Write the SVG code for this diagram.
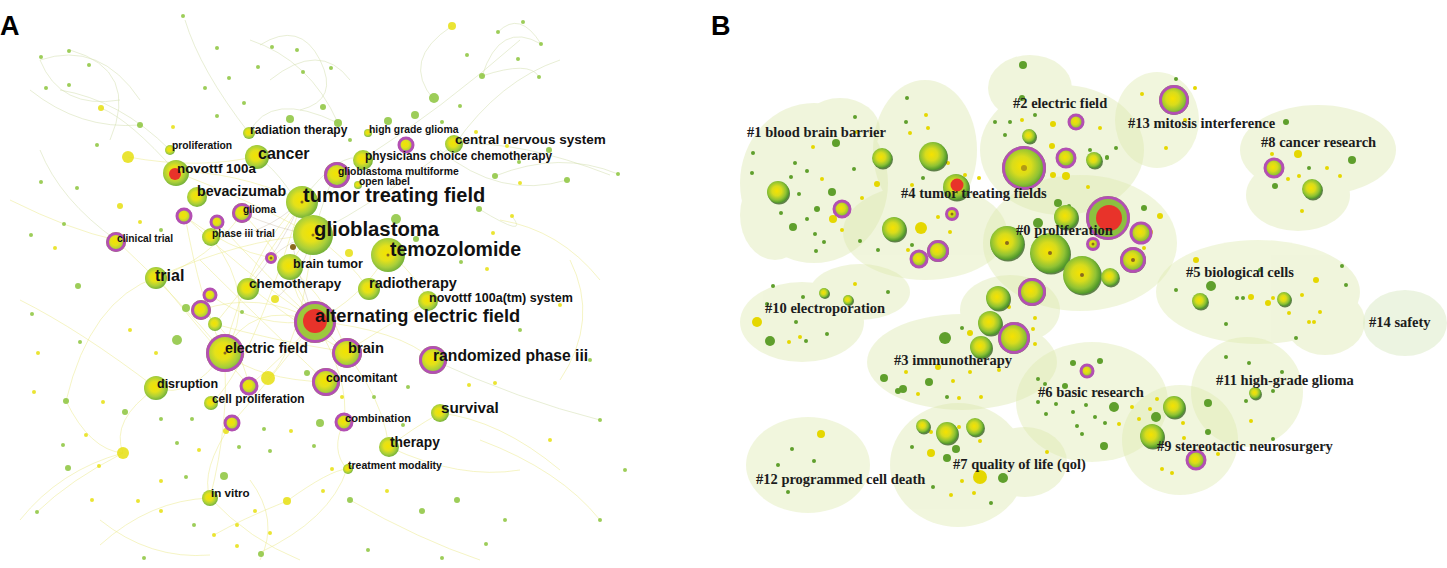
<svg xmlns="http://www.w3.org/2000/svg" width="1447" height="568" viewBox="0 0 1447 568">
<defs>
<radialGradient id="ga" cx="0.45" cy="0.45" r="0.55">
<stop offset="0" stop-color="#f3e300"/>
<stop offset="0.4" stop-color="#e4e11a"/>
<stop offset="0.75" stop-color="#a9cf3a"/>
<stop offset="1" stop-color="#78b33a"/>
</radialGradient>
<radialGradient id="gb" cx="0.45" cy="0.45" r="0.55">
<stop offset="0" stop-color="#f6e200"/>
<stop offset="0.4" stop-color="#d8dc1c"/>
<stop offset="0.75" stop-color="#8fc234"/>
<stop offset="1" stop-color="#4f982a"/>
</radialGradient>
<style>
.la{font-family:"Liberation Sans",Arial,sans-serif;font-weight:bold;fill:#111}
.lb{font-family:"Liberation Serif","Times New Roman",serif;font-weight:bold;fill:#1c1c1c;font-size:14.5px}
.na{fill:url(#ga)}
.nb{fill:url(#gb)}
.sh{fill:#2f5a17;opacity:.75}
.ring{fill:none;stroke:#b34fb3;stroke-width:3}
.red{fill:#e8332a}
.ctr{fill:#8a6a1e}
.e{fill:none;stroke:#ece98e;stroke-width:.7;opacity:.75}
.e2{fill:none;stroke:#d5e1b4;stroke-width:.7;opacity:.8}
.e3{fill:none;stroke:#bba98c;stroke-width:.6;opacity:.55}
.dg{fill:#8cc43c;opacity:.85}
.dy{fill:#e6df10;opacity:.85}
.bg{fill:#5f9f2c}
.by{fill:#e5d700}
.cl{fill:#dde9ad;opacity:.42}
.cl14{fill:#d4e6bc;opacity:.45}
.pl{font-family:"Liberation Sans",Arial,sans-serif;font-weight:bold;font-size:27px;fill:#000}
</style>
</defs>
<rect width="1447" height="568" fill="#ffffff"/>

<text class="pl" x="0" y="35">A</text>
<text class="pl" x="711" y="35">B</text>

<!-- ===================== PANEL A ===================== -->
<g id="connectors-A">
<path class="e" d="M315 321 Q270 270 313 235"/>
<path class="e" d="M315 321 Q250 300 224 353"/>
<path class="e" d="M315 321 Q360 300 389 252"/>
<path class="e" d="M313 235 Q250 200 176 172"/>
<path class="e" d="M313 235 Q240 240 157 277"/>
<path class="e" d="M302 200 Q250 250 224 353"/>
<path class="e" d="M302 200 Q230 170 176 172"/>
<path class="e" d="M224 353 Q180 300 116 240"/>
<path class="e" d="M224 353 Q200 300 185 216"/>
<path class="e" d="M224 353 Q260 380 326 382"/>
<path class="e" d="M224 353 Q190 400 156 388"/>
<path class="e" d="M224 353 Q230 420 210 498"/>
<path class="e" d="M315 321 Q350 380 344 422"/>
<path class="e" d="M315 321 Q380 380 389 447"/>
<path class="e" d="M315 321 Q400 330 433 360"/>
<path class="e" d="M315 321 Q280 250 242 213"/>
<path class="e2" d="M313 235 Q380 200 455 144"/>
<path class="e2" d="M313 235 Q330 180 336 174"/>
<path class="e2" d="M302 200 Q340 150 363 159"/>
<path class="e" d="M389 252 Q420 280 428 301"/>
<path class="e2" d="M257 156 Q290 180 313 235"/>
<path class="e" d="M257 156 Q200 170 128 157"/>
<path class="e2" d="M249 133 Q270 90 338 123"/>
<path class="e2" d="M176 172 Q130 120 101 108"/>
<path class="e2" d="M116 240 Q60 200 40 150"/>
<path class="e" d="M157 277 Q90 300 66 401"/>
<path class="e" d="M156 388 Q110 420 123 453"/>
<path class="e" d="M123 453 Q60 470 20 520"/>
<path class="e" d="M210 498 Q250 540 300 560"/>
<path class="e" d="M210 498 Q150 500 100 545"/>
<path class="e" d="M347 469 Q330 520 259 553"/>
<path class="e" d="M389 447 Q460 480 520 470"/>
<path class="e2" d="M433 360 Q520 400 600 420"/>
<path class="e2" d="M455 144 Q520 140 610 175"/>
<path class="e2" d="M455 144 Q500 80 560 60"/>
<path class="e2" d="M363 159 Q440 110 520 40"/>
<path class="e2" d="M434 100 Q400 60 452 26"/>
<path class="e2" d="M338 123 Q310 60 250 40"/>
<path class="e2" d="M249 133 Q200 70 185 20"/>
<path class="e2" d="M170 150 Q120 100 60 90"/>
<path class="e2" d="M40 60 Q100 40 140 100"/>
<path class="e2" d="M40 60 Q60 110 120 100"/>
<path class="e2" d="M70 50 Q140 70 110 140"/>
<path class="e2" d="M30 90 Q80 130 140 125"/>
<path class="e2" d="M260 45 Q300 20 320 60 Q340 100 300 110"/>
<path class="e2" d="M270 80 Q320 40 350 80"/>
<path class="e2" d="M482 76 Q500 20 541 44"/>
<path class="e2" d="M482 76 Q530 60 539 77"/>
<path class="e2" d="M498 32 Q520 10 541 44"/>
<path class="e2" d="M495 176 Q560 150 618 174"/>
<path class="e2" d="M440 150 Q500 200 567 180"/>
<path class="e2" d="M479 209 Q530 240 512 216"/>
<path class="e" d="M500 220 Q560 230 600 280"/>
<path class="e" d="M570 260 Q600 320 560 380"/>
<path class="e" d="M480 440 Q560 470 600 520"/>
<path class="e" d="M440 413 Q500 420 560 470"/>
<path class="e" d="M100 520 Q150 560 210 555"/>
<path class="e" d="M350 500 Q420 540 480 560"/>
<path class="e" d="M250 480 Q280 520 260 560"/>
<path class="e" d="M287 501 Q240 520 214 535"/>
<path class="e" d="M287 501 Q330 470 347 469"/>
<path class="e" d="M66 401 Q90 450 123 453"/>
<path class="e" d="M37 512 Q70 480 123 453"/>
<path class="e" d="M20 300 Q80 330 156 388"/>
<path class="e" d="M10 200 Q70 230 116 240"/>
<path class="e" d="M200 260 Q250 310 326 382"/>
<path class="e" d="M185 216 Q240 270 315 321"/>
<path class="e" d="M217 222 Q270 280 315 321"/>
<path class="e" d="M211 237 Q260 300 224 353"/>
<path class="e" d="M201 310 Q260 290 315 321"/>
<path class="e" d="M210 295 Q260 330 315 321"/>
<path class="e" d="M215 324 Q270 340 346 352"/>
<path class="e" d="M249 286 Q290 320 346 352"/>
<path class="e" d="M289 267 Q330 300 346 352"/>
<path class="e" d="M249 386 Q280 360 315 321"/>
<path class="e" d="M232 423 Q270 380 315 321"/>
<path class="e" d="M211 403 Q250 370 302 200"/>
<path class="e" d="M369 290 Q350 260 313 235"/>
<path class="e" d="M428 301 Q380 330 346 352"/>
<path class="e" d="M157 277 Q200 330 249 386"/>
<path class="e" d="M232 423 Q200 470 210 498"/>
<path class="e" d="M344 422 Q330 450 347 469"/>
<path class="e" d="M440 413 Q410 430 389 447"/>
<path class="e" d="M184 216 Q230 250 271 258"/>
<path class="e" d="M156 278 Q210 260 242 213"/>
<path class="e" d="M201 310 Q240 340 249 386"/>
<path class="e" d="M215 324 Q260 270 302 202"/>
<path class="e" d="M268 378 Q300 350 313 235"/>
<path class="e3" d="M271 258 Q290 240 313 235"/>
<path class="e3" d="M293 247 Q300 280 315 321"/>
<path class="e3" d="M249 286 Q280 250 302 200"/>
<path class="e3" d="M242 213 Q280 230 313 235"/>
<path class="e3" d="M211 237 Q260 240 302 200"/>
<path class="e3" d="M275 299 Q300 280 313 235"/>
</g>

<g id="minor-nodes-A">
<circle class="dy" cx="452" cy="26" r="4"/>
<circle class="dg" cx="498" cy="32" r="2"/>
<circle class="dg" cx="523" cy="22" r="2"/>
<circle class="dg" cx="541" cy="44" r="2"/>
<circle class="dg" cx="518" cy="59" r="2"/>
<circle class="dg" cx="482" cy="76" r="3"/>
<circle class="dg" cx="539" cy="77" r="2"/>
<circle class="dg" cx="467" cy="55" r="2"/>
<circle class="dg" cx="460" cy="106" r="2"/>
<circle class="dg" cx="442" cy="122" r="2"/>
<circle class="dy" cx="476" cy="132" r="2"/>
<circle class="dg" cx="549" cy="150" r="3"/>
<circle class="dg" cx="495" cy="176" r="3"/>
<circle class="dg" cx="567" cy="180" r="3"/>
<circle class="dg" cx="618" cy="174" r="2"/>
<circle class="dy" cx="520" cy="183" r="2"/>
<circle class="dg" cx="479" cy="209" r="3"/>
<circle class="dy" cx="512" cy="216" r="2"/>
<circle class="dy" cx="493" cy="233" r="2"/>
<circle class="dg" cx="461" cy="262" r="2"/>
<circle class="dy" cx="487" cy="269" r="2"/>
<circle class="dg" cx="519" cy="162" r="2"/>
<circle class="dy" cx="507" cy="146" r="2"/>
<circle class="dy" cx="101" cy="108" r="3"/>
<circle class="dg" cx="140" cy="125" r="3"/>
<circle class="dg" cx="41" cy="57" r="2"/>
<circle class="dg" cx="69" cy="51" r="2"/>
<circle class="dg" cx="89" cy="65" r="2"/>
<circle class="dg" cx="46" cy="88" r="2"/>
<circle class="dg" cx="69" cy="85" r="2"/>
<circle class="dg" cx="183" cy="16" r="2"/>
<circle class="dg" cx="217" cy="48" r="2"/>
<circle class="dg" cx="272" cy="47" r="2"/>
<circle class="dg" cx="297" cy="50" r="2"/>
<circle class="dg" cx="258" cy="67" r="2"/>
<circle class="dg" cx="303" cy="72" r="2"/>
<circle class="dg" cx="331" cy="68" r="2"/>
<circle class="dg" cx="229" cy="78" r="2"/>
<circle class="dg" cx="205" cy="88" r="2"/>
<circle class="dg" cx="244" cy="103" r="2"/>
<circle class="dg" cx="217" cy="116" r="2"/>
<circle class="dg" cx="290" cy="119" r="4"/>
<circle class="dg" cx="323" cy="107" r="3"/>
<circle class="dg" cx="338" cy="123" r="4"/>
<circle class="dg" cx="388" cy="121" r="4"/>
<circle class="dg" cx="415" cy="115" r="4"/>
<circle class="dg" cx="434" cy="98" r="5"/>
<circle class="dg" cx="350" cy="140" r="2"/>
<circle class="dy" cx="128" cy="157" r="6"/>
<circle class="dy" cx="173" cy="127" r="2"/>
<circle class="dg" cx="97" cy="145" r="2"/>
<circle class="dg" cx="41" cy="182" r="2"/>
<circle class="dg" cx="77" cy="188" r="2"/>
<circle class="dy" cx="120" cy="206" r="3"/>
<circle class="dg" cx="64" cy="224" r="2"/>
<circle class="dy" cx="55" cy="248" r="2"/>
<circle class="dg" cx="31" cy="235" r="2"/>
<circle class="dy" cx="140" cy="222" r="2"/>
<circle class="dg" cx="161" cy="230" r="2"/>
<circle class="dg" cx="396" cy="219" r="5"/>
<circle class="dg" cx="416" cy="239" r="3"/>
<circle class="dy" cx="349" cy="253" r="4"/>
<circle class="ctr" cx="293" cy="247" r="3"/>
<circle class="dg" cx="78" cy="286" r="3"/>
<circle class="dg" cx="80" cy="342" r="2"/>
<circle class="dg" cx="32" cy="314" r="2"/>
<circle class="dy" cx="38" cy="353" r="2"/>
<circle class="dg" cx="186" cy="308" r="4"/>
<circle class="dy" cx="275" cy="299" r="4"/>
<circle class="dg" cx="242" cy="312" r="2"/>
<circle class="dg" cx="177" cy="340" r="5"/>
<circle class="dy" cx="268" cy="378" r="7"/>
<circle class="dg" cx="307" cy="373" r="3"/>
<circle class="dy" cx="156" cy="353" r="2"/>
<circle class="dy" cx="130" cy="330" r="2"/>
<circle class="dg" cx="66" cy="401" r="3"/>
<circle class="dg" cx="125" cy="412" r="3"/>
<circle class="dy" cx="103" cy="402" r="2"/>
<circle class="dy" cx="34" cy="392" r="2"/>
<circle class="dg" cx="161" cy="419" r="2"/>
<circle class="dg" cx="192" cy="419" r="2"/>
<circle class="dy" cx="86" cy="435" r="2"/>
<circle class="dg" cx="63" cy="445" r="2"/>
<circle class="dg" cx="177" cy="443" r="2"/>
<circle class="dy" cx="199" cy="450" r="2"/>
<circle class="dy" cx="226" cy="431" r="3"/>
<circle class="dg" cx="239" cy="447" r="2"/>
<circle class="dg" cx="270" cy="451" r="2"/>
<circle class="dy" cx="291" cy="431" r="2"/>
<circle class="dg" cx="264" cy="429" r="2"/>
<circle class="dy" cx="123" cy="453" r="6"/>
<circle class="dg" cx="68" cy="468" r="3"/>
<circle class="dy" cx="99" cy="466" r="2"/>
<circle class="dy" cx="161" cy="481" r="2"/>
<circle class="dg" cx="186" cy="477" r="2"/>
<circle class="dg" cx="224" cy="476" r="4"/>
<circle class="dy" cx="92" cy="500" r="2"/>
<circle class="dy" cx="138" cy="501" r="2"/>
<circle class="dy" cx="161" cy="511" r="2"/>
<circle class="dg" cx="37" cy="512" r="2"/>
<circle class="dg" cx="194" cy="525" r="2"/>
<circle class="dy" cx="214" cy="535" r="2"/>
<circle class="dy" cx="237" cy="525" r="2"/>
<circle class="dy" cx="255" cy="511" r="2"/>
<circle class="dy" cx="287" cy="501" r="4"/>
<circle class="dy" cx="270" cy="533" r="2"/>
<circle class="dy" cx="237" cy="546" r="2"/>
<circle class="dg" cx="261" cy="554" r="3"/>
<circle class="dg" cx="144" cy="558" r="2"/>
<circle class="dy" cx="323" cy="491" r="2"/>
<circle class="dy" cx="332" cy="469" r="2"/>
<circle class="dg" cx="350" cy="500" r="3"/>
<circle class="dy" cx="387" cy="491" r="2"/>
<circle class="dg" cx="422" cy="511" r="3"/>
<circle class="dg" cx="457" cy="500" r="3"/>
<circle class="dg" cx="505" cy="520" r="2"/>
<circle class="dg" cx="486" cy="544" r="2"/>
<circle class="dg" cx="442" cy="558" r="2"/>
<circle class="dg" cx="368" cy="550" r="2"/>
<circle class="dg" cx="314" cy="446" r="2"/>
<circle class="dg" cx="320" cy="423" r="4"/>
<circle class="dg" cx="408" cy="387" r="2"/>
<circle class="dg" cx="374" cy="397" r="2"/>
<circle class="dy" cx="342" cy="397" r="2"/>
<circle class="dy" cx="469" cy="385" r="2"/>
<circle class="dy" cx="495" cy="383" r="2"/>
<circle class="dg" cx="403" cy="425" r="2"/>
<circle class="dg" cx="520" cy="330" r="2"/>
<circle class="dy" cx="560" cy="305" r="2"/>
<circle class="dg" cx="590" cy="360" r="2"/>
<circle class="dg" cx="600" cy="420" r="2"/>
<circle class="dy" cx="550" cy="440" r="2"/>
<circle class="dg" cx="600" cy="520" r="2"/>
<circle class="dg" cx="625" cy="470" r="2"/>
</g>

<g id="a-radiation-therapy"><circle class="na" cx="249" cy="133" r="6"/><text class="la" x="250" y="134" font-size="12">radiation therapy</text></g>
<g id="a-high-grade-glioma"><circle class="na" cx="368" cy="133" r="4"/><text class="la" x="369" y="133" font-size="10.4">high grade glioma</text></g>
<g id="a-magenta-145"><circle class="na" cx="406" cy="145" r="8"/><circle class="ring" cx="406" cy="145" r="7"/></g>
<g id="a-central-nervous-system"><circle class="na" cx="454" cy="144" r="9"/><text class="la" x="455" y="144" font-size="13.5">central nervous system</text></g>
<g id="a-cancer"><circle class="na" cx="257" cy="157" r="12"/><text class="la" x="258" y="159" font-size="16">cancer</text></g>
<g id="a-physicians"><circle class="na" cx="363" cy="160" r="10"/><text class="la" x="365" y="160" font-size="11.9">physicians choice chemotherapy</text></g>
<g id="a-proliferation"><circle class="na" cx="170" cy="150" r="5"/><text class="la" x="172" y="149" font-size="10.3">proliferation</text></g>
<g id="a-novottf-100a"><circle class="na" cx="176" cy="173" r="13"/><circle class="red" cx="175" cy="174" r="6"/><text class="la" x="177" y="173" font-size="13.4">novottf 100a</text></g>
<g id="a-glioblastoma-multiforme"><circle class="na" cx="337" cy="175" r="13"/><circle class="ring" cx="337" cy="175" r="11.5"/><text class="la" x="338" y="175" font-size="10.4">glioblastoma multiforme</text></g>
<g id="a-open-label"><circle class="na" cx="358" cy="185" r="4"/><text class="la" x="359" y="184.5" font-size="10.3">open label</text></g>
<g id="a-bevacizumab"><circle class="na" cx="197" cy="197" r="10"/><text class="la" x="197" y="196" font-size="14.2">bevacizumab</text></g>
<g id="a-tumor-treating-field"><circle class="na" cx="302" cy="202" r="16"/><circle class="ctr" cx="302" cy="202" r="1.5"/><text class="la" x="303" y="202" font-size="20">tumor treating field</text></g>
<g id="a-magenta-216"><circle class="na" cx="184" cy="216" r="8"/><circle class="ring" cx="184" cy="216" r="7"/></g>
<g id="a-magenta-222"><circle class="na" cx="217" cy="222" r="7"/><circle class="ring" cx="217" cy="222" r="6"/></g>
<g id="a-glioma"><circle class="na" cx="242" cy="213" r="10"/><circle class="ring" cx="242" cy="213" r="8.5"/><text class="la" x="243" y="213" font-size="10.2">glioma</text></g>
<g id="a-clinical-trial"><circle class="na" cx="116" cy="242" r="10"/><circle class="ring" cx="116" cy="242" r="8.5"/><text class="la" x="117" y="242" font-size="10.2">clinical trial</text></g>
<g id="a-phase-iii-trial"><circle class="na" cx="211" cy="237" r="9"/><text class="la" x="212" y="237" font-size="10.3">phase iii trial</text></g>
<g id="a-magenta-258"><circle class="na" cx="271" cy="258" r="5"/><circle class="ring" cx="271" cy="258" r="4.5" stroke-width="2"/><circle class="ctr" cx="271" cy="258" r="1.5"/></g>
<g id="a-glioblastoma"><circle class="na" cx="313" cy="235" r="20"/><circle class="ctr" cx="313" cy="235" r="1.5"/><text class="la" x="314" y="236" font-size="20.3">glioblastoma</text></g>
<g id="a-temozolomide"><circle class="na" cx="388" cy="255" r="17"/><circle class="ctr" cx="388" cy="255" r="1.5"/><text class="la" x="390" y="256" font-size="19.5">temozolomide</text></g>
<g id="a-brain-tumor"><circle class="na" cx="290" cy="267" r="13"/><text class="la" x="293" y="268" font-size="12.6">brain tumor</text></g>
<g id="a-trial"><circle class="na" cx="156" cy="278" r="11"/><text class="la" x="155" y="281" font-size="16">trial</text></g>
<g id="a-chemotherapy"><circle class="na" cx="248" cy="289" r="11"/><text class="la" x="249" y="288" font-size="13.5">chemotherapy</text></g>
<g id="a-radiotherapy"><circle class="na" cx="369" cy="289" r="11"/><text class="la" x="369" y="288" font-size="14.5">radiotherapy</text></g>
<g id="a-novottf-system"><circle class="na" cx="428" cy="301" r="10"/><text class="la" x="429" y="302" font-size="12.5">novottf 100a(tm) system</text></g>
<g id="a-magenta-295"><circle class="na" cx="210" cy="295" r="7"/><circle class="ring" cx="210" cy="295" r="6"/></g>
<g id="a-magenta-310"><circle class="na" cx="201" cy="310" r="10"/><circle class="ring" cx="201" cy="310" r="8.5"/></g>
<g id="a-yellow-324"><circle class="na" cx="215" cy="324" r="7"/></g>
<g id="a-alternating-electric-field"><circle fill="#9cc83c" cx="315" cy="322" r="21"/><circle class="ring" cx="315" cy="322" r="19.5"/><circle class="red" cx="315" cy="321" r="12"/><text class="la" x="315" y="322" font-size="18.3">alternating electric field</text></g>
<g id="a-electric-field"><circle class="na" cx="225" cy="353" r="19"/><circle class="ring" cx="225" cy="353" r="17.5"/><circle class="ctr" cx="225" cy="353" r="1.5"/><text class="la" x="225" y="353" font-size="14.2">electric field</text></g>
<g id="a-brain"><circle class="na" cx="347" cy="353" r="15"/><circle class="ring" cx="347" cy="353" r="13.5"/><text class="la" x="348" y="353" font-size="14.7">brain</text></g>
<g id="a-randomized-phase-iii"><circle class="na" cx="433" cy="360" r="14"/><circle class="ring" cx="433" cy="360" r="12.5"/><text class="la" x="433" y="361" font-size="15.7">randomized phase iii</text></g>
<g id="a-concomitant"><circle class="na" cx="326" cy="382" r="14"/><circle class="ring" cx="326" cy="382" r="12.5"/><text class="la" x="326" y="382" font-size="12">concomitant</text></g>
<g id="a-disruption"><circle class="na" cx="156" cy="388" r="12"/><text class="la" x="157" y="388" font-size="12.5">disruption</text></g>
<g id="a-magenta-386"><circle class="na" cx="249" cy="386" r="9"/><circle class="ring" cx="249" cy="386" r="8"/></g>
<g id="a-cell-proliferation"><circle class="na" cx="211" cy="403" r="7"/><text class="la" x="212" y="403" font-size="11.9">cell proliferation</text></g>
<g id="a-magenta-423"><circle class="na" cx="232" cy="423" r="8"/><circle class="ring" cx="232" cy="423" r="7"/></g>
<g id="a-survival"><circle class="na" cx="440" cy="413" r="9"/><text class="la" x="441" y="413" font-size="15.3">survival</text></g>
<g id="a-combination"><circle class="na" cx="344" cy="422" r="9"/><circle class="ring" cx="344" cy="422" r="8"/><text class="la" x="345" y="422" font-size="11.1">combination</text></g>
<g id="a-therapy"><circle class="na" cx="389" cy="447" r="10"/><text class="la" x="390" y="447" font-size="13.8">therapy</text></g>
<g id="a-treatment-modality"><circle class="na" cx="348" cy="469" r="5"/><text class="la" x="348" y="469" font-size="10.5">treatment modality</text></g>
<g id="a-in-vitro"><circle class="na" cx="210" cy="498" r="8"/><text class="la" x="211" y="497" font-size="11.6">in vitro</text></g>

<!-- ===================== PANEL B ===================== -->
<g id="clusters-B">
<g id="c1" class="cl"><ellipse cx="814" cy="183" rx="74" ry="80"/><ellipse cx="840" cy="130" rx="40" ry="32"/><ellipse cx="775" cy="215" rx="35" ry="45"/></g>
<g id="c4" class="cl"><ellipse cx="925" cy="150" rx="52" ry="70"/><ellipse cx="925" cy="232" rx="82" ry="48"/></g>
<g id="c2" class="cl"><ellipse cx="1030" cy="88" rx="42" ry="33"/><ellipse cx="1062" cy="150" rx="82" ry="65"/></g>
<g id="c13" class="cl"><ellipse cx="1157" cy="120" rx="42" ry="48"/></g>
<g id="c8" class="cl"><ellipse cx="1318" cy="150" rx="78" ry="45"/><ellipse cx="1298" cy="195" rx="52" ry="36"/></g>
<g id="c0" class="cl"><ellipse cx="1080" cy="243" rx="97" ry="68"/></g>
<g id="c10" class="cl"><ellipse cx="802" cy="322" rx="62" ry="40"/><ellipse cx="860" cy="292" rx="50" ry="28"/></g>
<g id="c3" class="cl"><ellipse cx="962" cy="362" rx="95" ry="48"/><ellipse cx="1010" cy="310" rx="50" ry="35"/></g>
<g id="c5" class="cl"><ellipse cx="1258" cy="292" rx="102" ry="52"/><ellipse cx="1325" cy="322" rx="40" ry="33"/></g>
<g id="c14" class="cl14"><ellipse cx="1405" cy="323" rx="42" ry="33"/></g>
<g id="c6" class="cl"><ellipse cx="1092" cy="402" rx="76" ry="60"/></g>
<g id="c11" class="cl"><ellipse cx="1247" cy="392" rx="56" ry="55"/></g>
<g id="c9" class="cl"><ellipse cx="1180" cy="440" rx="58" ry="55"/></g>
<g id="c7" class="cl"><ellipse cx="958" cy="465" rx="68" ry="62"/><ellipse cx="1025" cy="462" rx="42" ry="35"/></g>
<g id="c12" class="cl"><ellipse cx="808" cy="465" rx="62" ry="48"/></g>
</g>

<g id="minor-nodes-B">
<circle class="bg" cx="907" cy="98" r="2"/><circle class="by" cx="926" cy="115" r="2"/><circle class="bg" cx="906" cy="122" r="2"/><circle class="by" cx="928" cy="128" r="2"/>
<circle class="by" cx="910" cy="133" r="2"/><circle class="bg" cx="923" cy="178" r="2"/><circle class="by" cx="912" cy="185" r="2"/><circle class="by" cx="948" cy="163" r="2"/>
<circle class="by" cx="965" cy="175" r="2"/><circle class="by" cx="979" cy="178" r="2"/><circle class="bg" cx="753" cy="153" r="2"/><circle class="bg" cx="752" cy="173" r="2"/>
<circle class="by" cx="813" cy="147" r="2"/><circle class="bg" cx="855" cy="117" r="2"/><circle class="by" cx="857" cy="132" r="2"/><circle class="bg" cx="795" cy="163" r="2"/>
<circle class="bg" cx="807" cy="171" r="2"/><circle class="bg" cx="791" cy="177" r="2"/><circle class="bg" cx="799" cy="194" r="2"/><circle class="by" cx="822" cy="179" r="2"/>
<circle class="bg" cx="854" cy="169" r="2"/><circle class="by" cx="862" cy="198" r="2"/><circle class="bg" cx="781" cy="213" r="2"/><circle class="bg" cx="807" cy="219" r="2"/>
<circle class="bg" cx="815" cy="234" r="2"/><circle class="bg" cx="824" cy="242" r="2"/><circle class="by" cx="842" cy="230" r="2"/><circle class="bg" cx="816" cy="251" r="2"/>
<circle class="bg" cx="860" cy="241" r="2"/><circle class="bg" cx="878" cy="250" r="2"/><circle class="by" cx="908" cy="250" r="2"/><circle class="bg" cx="912" cy="245" r="2"/>
<circle class="by" cx="938" cy="217" r="2"/><circle class="by" cx="950" cy="232" r="2"/><circle class="bg" cx="995" cy="122" r="2"/><circle class="bg" cx="1010" cy="122" r="2"/>
<circle class="by" cx="1022" cy="120" r="2"/><circle class="bg" cx="1035" cy="115" r="2"/><circle class="bg" cx="1005" cy="135" r="2"/><circle class="by" cx="1052" cy="146" r="3"/>
<circle class="by" cx="1053" cy="175" r="3"/><circle class="bg" cx="1090" cy="150" r="2"/><circle class="by" cx="1100" cy="128" r="2"/><circle class="bg" cx="1107" cy="157" r="2"/>
<circle class="by" cx="1088" cy="187" r="2"/><circle class="bg" cx="1069" cy="206" r="2"/><circle class="bg" cx="1023" cy="65" r="4"/><circle class="bg" cx="1022" cy="98" r="3"/>
<circle class="by" cx="1053" cy="124" r="3"/><circle class="by" cx="1066" cy="176" r="4"/><circle class="bg" cx="1058" cy="203" r="4"/><circle class="bg" cx="1038" cy="223" r="5"/>
<circle class="by" cx="877" cy="184" r="3"/><circle class="bg" cx="832" cy="192" r="4"/><circle class="by" cx="833" cy="219" r="4"/><circle class="bg" cx="817" cy="209" r="3"/>
<circle class="bg" cx="836" cy="143" r="4"/><circle class="bg" cx="793" cy="227" r="4"/><circle class="by" cx="921" cy="228" r="6"/>
<circle class="bg" cx="1176" cy="79" r="2"/><circle class="by" cx="1195" cy="88" r="2"/><circle class="by" cx="1142" cy="94" r="2"/><circle class="by" cx="1166" cy="148" r="2"/>
<circle class="by" cx="1185" cy="120" r="2"/><circle class="bg" cx="1116" cy="148" r="2"/><circle class="bg" cx="1107" cy="158" r="2"/>
<circle class="bg" cx="1286" cy="122" r="3"/><circle class="by" cx="1298" cy="154" r="4"/><circle class="bg" cx="1352" cy="160" r="4"/><circle class="bg" cx="1275" cy="186" r="3"/>
<circle class="by" cx="1272" cy="154" r="2"/><circle class="bg" cx="1309" cy="168" r="2"/><circle class="by" cx="1327" cy="168" r="2"/><circle class="by" cx="1340" cy="176" r="2"/>
<circle class="by" cx="1299" cy="176" r="2"/><circle class="by" cx="1288" cy="179" r="2"/><circle class="by" cx="1302" cy="211" r="2"/>
<circle class="by" cx="1150" cy="232" r="3"/><circle class="bg" cx="1144" cy="208" r="3"/><circle class="by" cx="1160" cy="216" r="3"/><circle class="by" cx="1144" cy="248" r="2"/>
<circle class="by" cx="1196" cy="260" r="3"/><circle class="bg" cx="1211" cy="286" r="5"/><circle class="by" cx="1251" cy="297" r="3"/><circle class="bg" cx="1237" cy="298" r="2"/>
<circle class="bg" cx="1243" cy="298" r="2"/><circle class="by" cx="1268" cy="303" r="3"/><circle class="by" cx="1273" cy="298" r="2"/><circle class="bg" cx="1260" cy="270" r="2"/>
<circle class="by" cx="1316" cy="280" r="3"/><circle class="bg" cx="1342" cy="266" r="2"/><circle class="bg" cx="1346" cy="285" r="2"/><circle class="by" cx="1302" cy="295" r="2"/>
<circle class="by" cx="1320" cy="312" r="2"/><circle class="by" cx="1314" cy="322" r="2"/><circle class="by" cx="1309" cy="322" r="2"/><circle class="by" cx="1289" cy="313" r="2"/>
<circle class="bg" cx="1226" cy="324" r="2"/><circle class="bg" cx="1296" cy="338" r="2"/><circle class="bg" cx="1176" cy="290" r="2"/>
<circle class="bg" cx="1226" cy="357" r="2"/><circle class="bg" cx="1249" cy="363" r="2"/><circle class="bg" cx="1282" cy="372" r="2"/><circle class="bg" cx="1273" cy="391" r="2"/>
<circle class="bg" cx="1246" cy="401" r="2"/><circle class="by" cx="1251" cy="421" r="2"/><circle class="bg" cx="1273" cy="439" r="2"/><circle class="bg" cx="1208" cy="403" r="4"/><circle class="bg" cx="1208" cy="432" r="3"/>
<circle class="bg" cx="1156" cy="417" r="5"/><circle class="bg" cx="1114" cy="407" r="5"/><circle class="bg" cx="1104" cy="447" r="3"/><circle class="by" cx="1132" cy="407" r="2"/>
<circle class="by" cx="1150" cy="409" r="2"/><circle class="by" cx="1139" cy="419" r="2"/><circle class="by" cx="1183" cy="423" r="2"/><circle class="by" cx="1184" cy="438" r="2"/>
<circle class="by" cx="1218" cy="454" r="2"/><circle class="by" cx="1162" cy="469" r="2"/><circle class="by" cx="1172" cy="473" r="2"/><circle class="by" cx="1157" cy="399" r="2"/>
<circle class="by" cx="1119" cy="424" r="2"/>
<circle class="by" cx="757" cy="322" r="5"/><circle class="bg" cx="770" cy="341" r="5"/><circle class="bg" cx="796" cy="322" r="2"/><circle class="by" cx="789" cy="342" r="2"/>
<circle class="by" cx="800" cy="337" r="2"/><circle class="bg" cx="806" cy="341" r="2"/><circle class="bg" cx="827" cy="334" r="2"/><circle class="bg" cx="888" cy="292" r="2"/>
<circle class="by" cx="855" cy="284" r="2"/><circle class="bg" cx="773" cy="286" r="2"/><circle class="bg" cx="803" cy="297" r="2"/><circle class="bg" cx="767" cy="304" r="2"/>
<circle class="bg" cx="945" cy="338" r="6"/><circle class="by" cx="970" cy="333" r="3"/><circle class="bg" cx="962" cy="328" r="2"/><circle class="by" cx="1009" cy="307" r="2"/>
<circle class="by" cx="1035" cy="318" r="2"/><circle class="by" cx="1033" cy="329" r="2"/><circle class="by" cx="1035" cy="344" r="2"/><circle class="by" cx="938" cy="367" r="3"/>
<circle class="by" cx="970" cy="372" r="2"/><circle class="by" cx="999" cy="370" r="2"/><circle class="by" cx="906" cy="372" r="2"/><circle class="bg" cx="884" cy="378" r="4"/>
<circle class="bg" cx="903" cy="389" r="4"/><circle class="bg" cx="898" cy="391" r="3"/><circle class="bg" cx="929" cy="382" r="4"/><circle class="by" cx="918" cy="394" r="2"/>
<circle class="bg" cx="947" cy="397" r="2"/><circle class="by" cx="953" cy="381" r="2"/><circle class="by" cx="959" cy="398" r="2"/><circle class="by" cx="981" cy="397" r="2"/>
<circle class="bg" cx="1073" cy="363" r="3"/><circle class="bg" cx="1100" cy="361" r="3"/><circle class="bg" cx="1038" cy="379" r="2"/><circle class="bg" cx="1045" cy="384" r="2"/>
<circle class="bg" cx="1065" cy="386" r="3"/><circle class="bg" cx="1038" cy="402" r="2"/><circle class="bg" cx="1056" cy="404" r="2"/><circle class="bg" cx="1046" cy="414" r="2"/>
<circle class="bg" cx="1073" cy="412" r="2"/><circle class="bg" cx="1086" cy="405" r="2"/><circle class="bg" cx="1095" cy="417" r="2"/><circle class="bg" cx="1077" cy="426" r="2"/>
<circle class="bg" cx="1105" cy="423" r="2"/><circle class="bg" cx="1082" cy="434" r="2"/><circle class="bg" cx="1104" cy="446" r="4"/>
<circle class="by" cx="931" cy="453" r="4"/><circle class="bg" cx="947" cy="458" r="4"/><circle class="bg" cx="956" cy="449" r="4"/><circle class="by" cx="980" cy="477" r="7"/>
<circle class="bg" cx="1003" cy="478" r="5"/><circle class="by" cx="959" cy="427" r="2"/><circle class="by" cx="980" cy="441" r="2"/><circle class="bg" cx="912" cy="447" r="2"/>
<circle class="by" cx="931" cy="432" r="2"/><circle class="by" cx="962" cy="481" r="2"/><circle class="bg" cx="933" cy="487" r="2"/><circle class="by" cx="951" cy="495" r="2"/>
<circle class="by" cx="974" cy="493" r="2"/><circle class="bg" cx="991" cy="503" r="2"/><circle class="by" cx="1047" cy="452" r="2"/>
<circle class="by" cx="821" cy="434" r="4"/><circle class="bg" cx="792" cy="449" r="2"/><circle class="bg" cx="814" cy="461" r="2"/><circle class="bg" cx="778" cy="465" r="2"/><circle class="bg" cx="788" cy="492" r="2"/>
</g>

<g id="b-nodes">
<g id="b-882-158"><circle class="sh" cx="883" cy="159.5" r="10"/><circle class="nb" cx="882" cy="158" r="10"/></g>
<g id="b-933-156"><circle class="sh" cx="934" cy="157.5" r="14"/><circle class="nb" cx="933" cy="156" r="14"/></g>
<g id="b-956-187"><circle class="sh" cx="957" cy="188.5" r="13"/><circle class="nb" cx="956" cy="187" r="13"/><circle class="red" cx="957" cy="185" r="6.5"/></g>
<g id="b-778-192"><circle class="sh" cx="779" cy="193.5" r="11"/><circle class="nb" cx="778" cy="192" r="11"/></g>
<g id="b-842-209"><circle class="nb" cx="842" cy="209" r="9"/><circle class="ring" cx="842" cy="209" r="8"/></g>
<g id="b-894-229"><circle class="sh" cx="895" cy="230.5" r="12"/><circle class="nb" cx="894" cy="229" r="12"/></g>
<g id="b-952-214"><circle class="nb" cx="952" cy="214" r="6"/><circle class="ring" cx="952" cy="214" r="5.5" stroke-width="2"/><circle class="ctr" cx="952" cy="214" r="1.5"/></g>
<g id="b-938-251"><circle class="nb" cx="938" cy="251" r="11"/><circle class="ring" cx="938" cy="251" r="9.5"/></g>
<g id="b-919-259"><circle class="nb" cx="919" cy="259" r="9"/><circle class="ring" cx="919" cy="259" r="8"/></g>
<g id="b-1024-168"><circle class="nb" cx="1024" cy="168" r="22"/><circle class="ring" cx="1024" cy="168" r="20.5"/><circle class="ctr" cx="1024" cy="168" r="3" opacity=".6"/></g>
<g id="b-1029-136"><circle class="sh" cx="1030" cy="137.5" r="7"/><circle class="nb" cx="1029" cy="136" r="7"/></g>
<g id="b-1076-122"><circle class="nb" cx="1076" cy="122" r="8"/><circle class="ring" cx="1076" cy="122" r="7"/></g>
<g id="b-1066-158"><circle class="nb" cx="1066" cy="158" r="10"/><circle class="ring" cx="1066" cy="158" r="9"/></g>
<g id="b-1094-160"><circle class="sh" cx="1095" cy="161.5" r="8"/><circle class="nb" cx="1094" cy="160" r="8"/></g>
<g id="b-1066-217"><circle class="sh" cx="1067" cy="218.5" r="12"/><circle class="nb" cx="1066" cy="217" r="12"/></g>
<g id="b-1108-218"><circle fill="#8cc040" cx="1108" cy="218" r="22"/><circle class="ring" cx="1108" cy="218" r="20.5"/><circle class="red" cx="1109" cy="218" r="13"/></g>
<g id="b-1007-243"><circle class="sh" cx="1008" cy="244.5" r="17"/><circle class="nb" cx="1007" cy="243" r="17"/><circle class="ctr" cx="1007" cy="243" r="2"/></g>
<g id="b-1050-253"><circle class="sh" cx="1051" cy="254.5" r="20"/><circle class="nb" cx="1050" cy="253" r="20"/><circle class="ctr" cx="1050" cy="253" r="2"/></g>
<g id="b-1082-275"><circle class="sh" cx="1083" cy="276.5" r="19"/><circle class="nb" cx="1082" cy="275" r="19"/><circle class="ctr" cx="1082" cy="275" r="2"/></g>
<g id="b-1110-277"><circle class="sh" cx="1111" cy="278.5" r="9"/><circle class="nb" cx="1110" cy="277" r="9"/></g>
<g id="b-1093-244"><circle class="nb" cx="1093" cy="244" r="6"/><circle class="ring" cx="1093" cy="244" r="5.5" stroke-width="2"/><circle class="ctr" cx="1093" cy="244" r="1.5"/></g>
<g id="b-1141-233"><circle class="nb" cx="1141" cy="233" r="11"/><circle class="ring" cx="1141" cy="233" r="10"/></g>
<g id="b-1133-260"><circle class="nb" cx="1133" cy="260" r="13"/><circle class="ring" cx="1133" cy="260" r="11.5"/><circle class="ctr" cx="1133" cy="260" r="2"/></g>
<g id="b-1032-292"><circle class="nb" cx="1032" cy="292" r="14"/><circle class="ring" cx="1032" cy="292" r="12.5"/></g>
<g id="b-998-298"><circle class="sh" cx="999" cy="299.5" r="12"/><circle class="nb" cx="998" cy="298" r="12"/></g>
<g id="b-990-323"><circle class="sh" cx="991" cy="324.5" r="12"/><circle class="nb" cx="990" cy="323" r="12"/></g>
<g id="b-1014-338"><circle class="nb" cx="1014" cy="338" r="16"/><circle class="ring" cx="1014" cy="338" r="14.5"/></g>
<g id="b-981-347"><circle class="sh" cx="982" cy="348.5" r="11"/><circle class="nb" cx="981" cy="347" r="11"/></g>
<g id="b-824-293"><circle class="sh" cx="825" cy="294" r="5"/><circle class="nb" cx="824" cy="293" r="5"/></g>
<g id="b-848-300"><circle class="sh" cx="849" cy="301" r="5"/><circle class="nb" cx="848" cy="300" r="5"/></g>
<g id="b-1174-100"><circle class="nb" cx="1174" cy="100" r="15"/><circle class="ring" cx="1174" cy="100" r="13.5"/></g>
<g id="b-1274-168"><circle class="nb" cx="1274" cy="168" r="10"/><circle class="ring" cx="1274" cy="168" r="9"/></g>
<g id="b-1312-189"><circle class="sh" cx="1313" cy="190.5" r="10"/><circle class="nb" cx="1312" cy="189" r="10"/></g>
<g id="b-1200-301"><circle class="sh" cx="1201" cy="302.5" r="8"/><circle class="nb" cx="1200" cy="301" r="8"/></g>
<g id="b-1284-299"><circle class="sh" cx="1285" cy="300.5" r="7"/><circle class="nb" cx="1284" cy="299" r="7"/></g>
<g id="b-1255-393"><circle class="sh" cx="1256" cy="394.5" r="6"/><circle class="nb" cx="1255" cy="393" r="6"/></g>
<g id="b-1087-371"><circle class="nb" cx="1087" cy="371" r="7"/><circle class="ring" cx="1087" cy="371" r="6" stroke-width="2.2"/></g>
<g id="b-1174-407"><circle class="sh" cx="1175" cy="408.5" r="11"/><circle class="nb" cx="1174" cy="407" r="11"/></g>
<g id="b-1152-436"><circle class="sh" cx="1153" cy="437.5" r="12"/><circle class="nb" cx="1152" cy="436" r="12"/></g>
<g id="b-1196-460"><circle class="nb" cx="1196" cy="460" r="10"/><circle class="ring" cx="1196" cy="460" r="9"/></g>
<g id="b-923-426"><circle class="sh" cx="924" cy="427.5" r="7"/><circle class="nb" cx="923" cy="426" r="7"/></g>
<g id="b-947-433"><circle class="sh" cx="948" cy="434.5" r="11"/><circle class="nb" cx="947" cy="433" r="11"/></g>
<g id="b-975-427"><circle class="sh" cx="976" cy="428.5" r="9"/><circle class="nb" cx="975" cy="427" r="9"/></g>
</g>

<g id="cluster-labels-B">
<text class="lb" x="747" y="137">#1 blood brain barrier</text>
<text class="lb" x="901" y="198">#4 tumor treating fields</text>
<text class="lb" x="1013" y="108">#2 electric field</text>
<text class="lb" x="1128" y="128">#13 mitosis interference</text>
<text class="lb" x="1261" y="147">#8 cancer research</text>
<text class="lb" x="1016" y="235">#0 proliferation</text>
<text class="lb" x="765" y="313">#10 electroporation</text>
<text class="lb" x="1186" y="277">#5 biological cells</text>
<text class="lb" x="1369" y="327">#14 safety</text>
<text class="lb" x="894" y="365">#3 immunotherapy</text>
<text class="lb" x="1038" y="397">#6 basic research</text>
<text class="lb" x="1216" y="385">#11 high-grade glioma</text>
<text class="lb" x="1157" y="451">#9 stereotactic neurosurgery</text>
<text class="lb" x="953" y="469">#7 quality of life (qol)</text>
<text class="lb" x="756" y="484">#12 programmed cell death</text>
</g>
</svg>
